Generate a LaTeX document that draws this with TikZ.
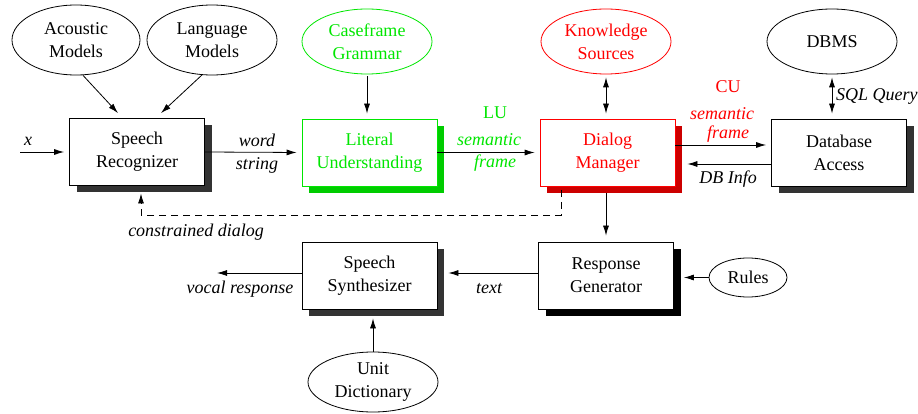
\documentclass[tikz,border=0pt]{standalone}
\usepackage{fontspec}
\setmainfont{Liberation Serif}
\usetikzlibrary{shadows,arrows.meta,shapes.geometric}
\definecolor{fgreen}{RGB}{0,230,0}
\definecolor{sgreen}{RGB}{0,204,0}
\definecolor{fred}{RGB}{255,0,0}
\definecolor{sred}{RGB}{204,0,0}
\definecolor{sgray}{RGB}{51,51,51}
\begin{document}
\begin{tikzpicture}[x=1pt,y=-1pt,
  font=\fontsize{18}{23}\selectfont,
  box/.style={draw, fill=white, minimum width=135pt, minimum height=67pt, inner sep=0pt, align=center, line width=0.8pt},
  shd/.style={drop shadow={shadow xshift=7pt, shadow yshift=-7pt, fill=#1, opacity=1}},
  ell/.style={draw, ellipse, minimum width=130pt, minimum height=65pt, inner sep=0pt, align=center, line width=0.8pt},
  arr/.style={-{Latex[length=10pt,width=6pt]}, line width=0.8pt},
  darr/.style={{Latex[length=10pt,width=6pt]}-{Latex[length=10pt,width=6pt]}, line width=0.8pt},
  lab/.style={font=\fontsize{18}{23}\selectfont\itshape, inner sep=0pt},
  nlab/.style={font=\fontsize{18}{23}\selectfont, inner sep=0pt},
]
\useasboundingbox (0,0) rectangle (918,414);

% boxes
\node[box, shd=sgray] (sr) at (137,152) {Speech\\Recognizer};
\node[box, shd=sgreen, draw=fgreen, text=fgreen] (lu) at (369.5,152.5) {Literal\\Understanding};
\node[box, shd=sred, draw=fred, text=fred] (dm) at (607.5,152.5) {Dialog\\Manager};
\node[box, shd=sgray] (db) at (839,152.5) {Database\\Access};
\node[box, shd=sgray] (ss) at (369.5,275.5) {Speech\\Synthesizer};
\node[box, shd=black] (rg) at (606,275.5) {Response\\Generator};

% ellipses
\node[ell, minimum width=128pt, minimum height=70pt] (am) at (76,40) {Acoustic\\Models};
\node[ell, minimum height=70pt] (lm) at (212,40) {Language\\Models};
\node[ell, draw=fgreen, text=fgreen] (cg) at (367,41.5) {Caseframe\\Grammar};
\node[ell, draw=fred, text=fred] (ks) at (606,41.5) {Knowledge\\Sources};
\node[ell] (dbms) at (832,41.5) {DBMS};
\node[ell, minimum width=78pt, minimum height=39pt] (rules) at (748,277.5) {Rules};
\node[ell, minimum height=60pt] (ud) at (373,382) {Unit\\Dictionary};

% arrows from models
\draw[arr] (am.-79) -- ([xshift=-19pt,yshift=5pt]sr.north);
\draw[arr] (lm.-106) -- ([xshift=24pt,yshift=5pt]sr.north);
\draw[arr] ([yshift=-2pt]cg.south) -- ([yshift=5pt]cg.south |- lu.north);
\draw[darr] ([yshift=-3pt]ks.south) -- ([yshift=5pt]ks.south |- dm.north);
\draw[darr] ([yshift=-3pt]dbms.south) -- ([yshift=5pt]dbms.south |- db.north);

% input
\coordinate (xin) at (20,152);
\draw[arr, shorten >=5pt] (xin) -- (sr.west);
\node[lab] (xl) at (28,141) {x};

% main chain
\draw[arr, shorten >=5pt] (sr.east) -- (lu.west);
\node[lab] (w1) at (257,140) {word};
\node[lab] (w2) at (257,165) {string};

\draw[arr, shorten >=5pt] (lu.east) -- (dm.west);
\node[nlab, text=fgreen] (lu1) at (495,113) {LU};
\node[lab, text=fgreen] (lu2) at (489,140) {semantic};
\node[lab, text=fgreen] (lu3) at (495,163) {frame};

\draw[arr, shorten >=5pt] ([yshift=7.5pt]dm.east) -- ([yshift=7.5pt]db.west);
\draw[arr, shorten >=5pt] ([yshift=-11.5pt]db.west) -- ([yshift=-11.5pt,xshift=7pt]dm.east);
\node[nlab, text=fred] (cu1) at (728,87) {CU};
\node[lab, text=fred] (cu2) at (722,114) {semantic};
\node[lab, text=fred] (cu3) at (728,134) {frame};
\node[lab] (dbi) at (728,179) {DB Info};
\node[lab, anchor=west] (sql) at (836,96) {SQL Query};

% dialog manager to response generator
\draw[arr, shorten >=6pt] ([yshift=-7pt]dm.south -| ks.south) -- (ks.south |- rg.north);

% dashed feedback
\coordinate (c1) at (561,190);
\coordinate (c2) at (141,193.5);
\draw[arr, dash pattern=on 7pt off 5pt] (c1) -- ++(0,25) -| (c2);
\node[lab] (cd) at (196,232) {constrained dialog};

% bottom row
\draw[arr, shorten >=4pt] ([yshift=2.5pt]rg.west) -- ([yshift=2.5pt,xshift=7pt]ss.east);
\node[lab] (tx) at (489,289) {text};
\coordinate (vr) at (217,273);
\draw[arr] ([yshift=2.5pt]ss.west) -- (vr);
\node[lab] (vrl) at (240,289) {vocal response};
\draw[arr, shorten >=2pt] (ud.north) -- ([yshift=-7pt]ud.north |- ss.south);
\draw[arr, shorten >=3pt] (rules.west) -- ([xshift=7pt]rules.west -| rg.east);
\end{tikzpicture}
\end{document}
